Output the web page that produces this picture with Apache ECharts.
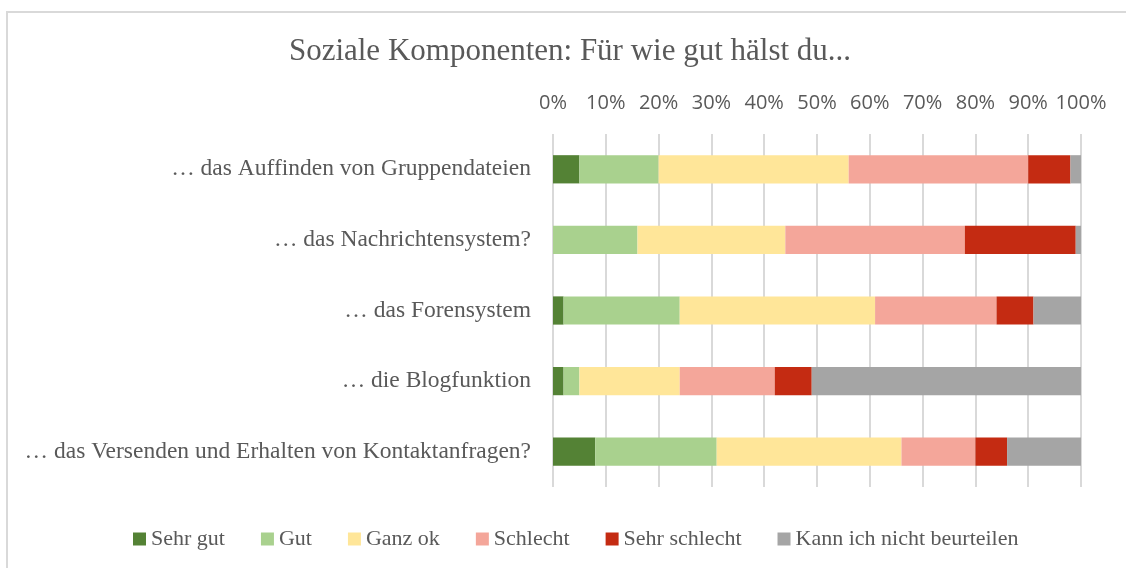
<!DOCTYPE html>
<html>
<head>
<meta charset="utf-8">
<script src="https://cdn.jsdelivr.net/npm/echarts@6/dist/echarts.min.js"></script>
<style>
  html, body { margin: 0; padding: 0; background: #ffffff; }
  #chart { width: 1126px; height: 568px; }
</style>
</head>
<body>
<div id="chart"></div>
<script>
// Survey items (top to bottom as displayed)
const categories = [
  '… das Auffinden von Gruppendateien',
  '… das Nachrichtensystem?',
  '… das Forensystem',
  '… die Blogfunktion',
  '… das Versenden und Erhalten von Kontaktanfragen?'
];

// Answer shares in percent, one array per answer option
const sehrGut      = [5, 0, 2, 2, 8];
const gut          = [15, 16, 22, 3, 23];
const ganzOk       = [36, 28, 37, 19, 35];
const schlecht     = [34, 34, 23, 18, 14];
const sehrSchlecht = [8, 21, 7, 7, 6];
const kannNicht    = [2, 1, 9, 51, 14];

const seriesNames = ['Sehr gut', 'Gut', 'Ganz ok', 'Schlecht', 'Sehr schlecht', 'Kann ich nicht beurteilen'];
const seriesData = [sehrGut, gut, ganzOk, schlecht, sehrSchlecht, kannNicht];
const colors = ['#548235', '#A9D18E', '#FFE699', '#F4A69A', '#C42B12', '#A5A5A5'];

const serif = '"Liberation Serif", "DejaVu Serif", serif';
const sans = '"Open Sans", "Liberation Sans", sans-serif';

const chart = echarts.init(document.getElementById('chart'), null, { renderer: 'canvas' });

chart.setOption({
  animation: false,
  backgroundColor: '#ffffff',
  color: colors,
  title: {
    text: 'Soziale Komponenten: Für wie gut hälst du...',
    left: 565,
    textAlign: 'center',
    top: 31,
    textStyle: { fontFamily: serif, fontSize: 31, fontWeight: 'normal', color: '#595959' }
  },
  legend: {
    top: 523,
    left: 128,
    itemWidth: 13,
    itemHeight: 13,
    itemGap: 36,
    icon: 'rect',
    textStyle: { fontFamily: serif, fontSize: 22, color: '#595959' },
    data: seriesNames
  },
  grid: { left: 553, right: 45, top: 134, bottom: 81, containLabel: false },
  xAxis: {
    type: 'value',
    position: 'top',
    min: 0,
    max: 100,
    interval: 10,
    axisLine: { show: false },
    axisTick: { show: false },
    axisLabel: {
      formatter: '{value}%',
      fontFamily: sans,
      fontSize: 20,
      color: '#595959',
      margin: 21
    },
    splitLine: { show: true, lineStyle: { color: '#D9D9D9', width: 2 } }
  },
  yAxis: {
    type: 'category',
    inverse: true,
    data: categories,
    axisLine: { show: false },
    axisTick: { show: false },
    axisLabel: {
      fontFamily: serif,
      fontSize: 23.5,
      color: '#595959',
      margin: 22
    }
  },
  series: seriesNames.map((name, i) => ({
    name: name,
    type: 'bar',
    stack: 'total',
    barCategoryGap: '60%',
    data: seriesData[i],
    itemStyle: { color: colors[i] }
  })),
  graphic: [
    {
      type: 'rect',
      shape: { x: 7, y: 12, width: 1140, height: 580 },
      style: { fill: 'none', stroke: '#D9D9D9', lineWidth: 2 },
      silent: true,
      z: 100
    }
  ]
});
</script>
</body>
</html>
